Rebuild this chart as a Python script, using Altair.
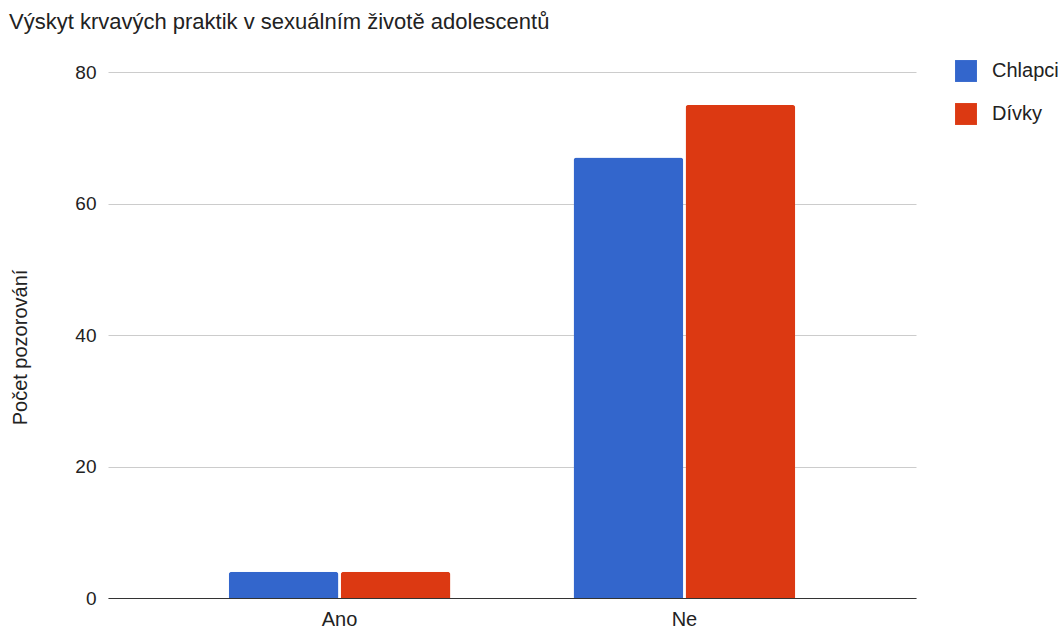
import altair as alt
import pandas as pd

# Survey answers and counts per group
answers = ["Ano", "Ne"]
boys = [4, 67]
girls = [4, 75]
groups = ["Chlapci", "Dívky"]

rows = []
for i, a in enumerate(answers):
    rows.append({"odpoved": a, "skupina": groups[0], "pocet": boys[i]})
    rows.append({"odpoved": a, "skupina": groups[1], "pocet": girls[i]})
df = pd.DataFrame(rows)

FONT = "Liberation Sans"
TEXT = "#222222"

chart = (
    alt.Chart(df)
    .mark_bar(cornerRadiusTopLeft=3, cornerRadiusTopRight=3)
    .encode(
        x=alt.X(
            "odpoved:N",
            sort=answers,
            title=None,
            scale=alt.Scale(paddingInner=0.357, paddingOuter=0.35),
            axis=alt.Axis(
                labelAngle=0,
                ticks=False,
                domainColor="#333333",
                domainWidth=1,
                labelPadding=11,
                labelFontSize=20,
                labelColor=TEXT,
                labelFont=FONT,
            ),
        ),
        xOffset=alt.XOffset(
            "skupina:N", sort=groups, scale=alt.Scale(paddingInner=0.02, paddingOuter=0)
        ),
        y=alt.Y(
            "pocet:Q",
            title="Počet pozorování",
            scale=alt.Scale(domain=[0, 80]),
            axis=alt.Axis(
                values=[0, 20, 40, 60, 80],
                ticks=False,
                domain=False,
                gridColor="#cccccc",
                labelPadding=12,
                labelFontSize=19,
                labelColor=TEXT,
                labelFont=FONT,
                titleFont=FONT,
                titleFontSize=20,
                titleFontWeight="normal",
                titleColor=TEXT,
                titlePadding=44,
                titleY=275,
            ),
        ),
        color=alt.Color(
            "skupina:N",
            sort=groups,
            scale=alt.Scale(domain=groups, range=["#3366cc", "#dc3912"]),
            legend=alt.Legend(
                title=None,
                orient="none",
                legendX=847,
                legendY=-12,
                symbolType="square",
                symbolSize=480,
                symbolStrokeWidth=0,
                labelFont=FONT,
                labelFontSize=20,
                labelColor=TEXT,
                labelOffset=15,
                rowPadding=21,
            ),
        ),
    )
    .properties(
        width=808,
        height=526,
        autosize=alt.AutoSizeParams(type="none"),
        padding={"left": 108, "top": 72, "right": 142, "bottom": 30},
        title=alt.Title(
            "Výskyt krvavých praktik v sexuálním životě adolescentů",
            anchor="start",
            frame="group",
            dx=-99,
            offset=26,
            font=FONT,
            fontSize=22,
            fontWeight="normal",
            color=TEXT,
        ),
    )
    .configure_view(stroke=None)
)

chart.save("out.html", embed_options={"renderer": "svg", "actions": False})
